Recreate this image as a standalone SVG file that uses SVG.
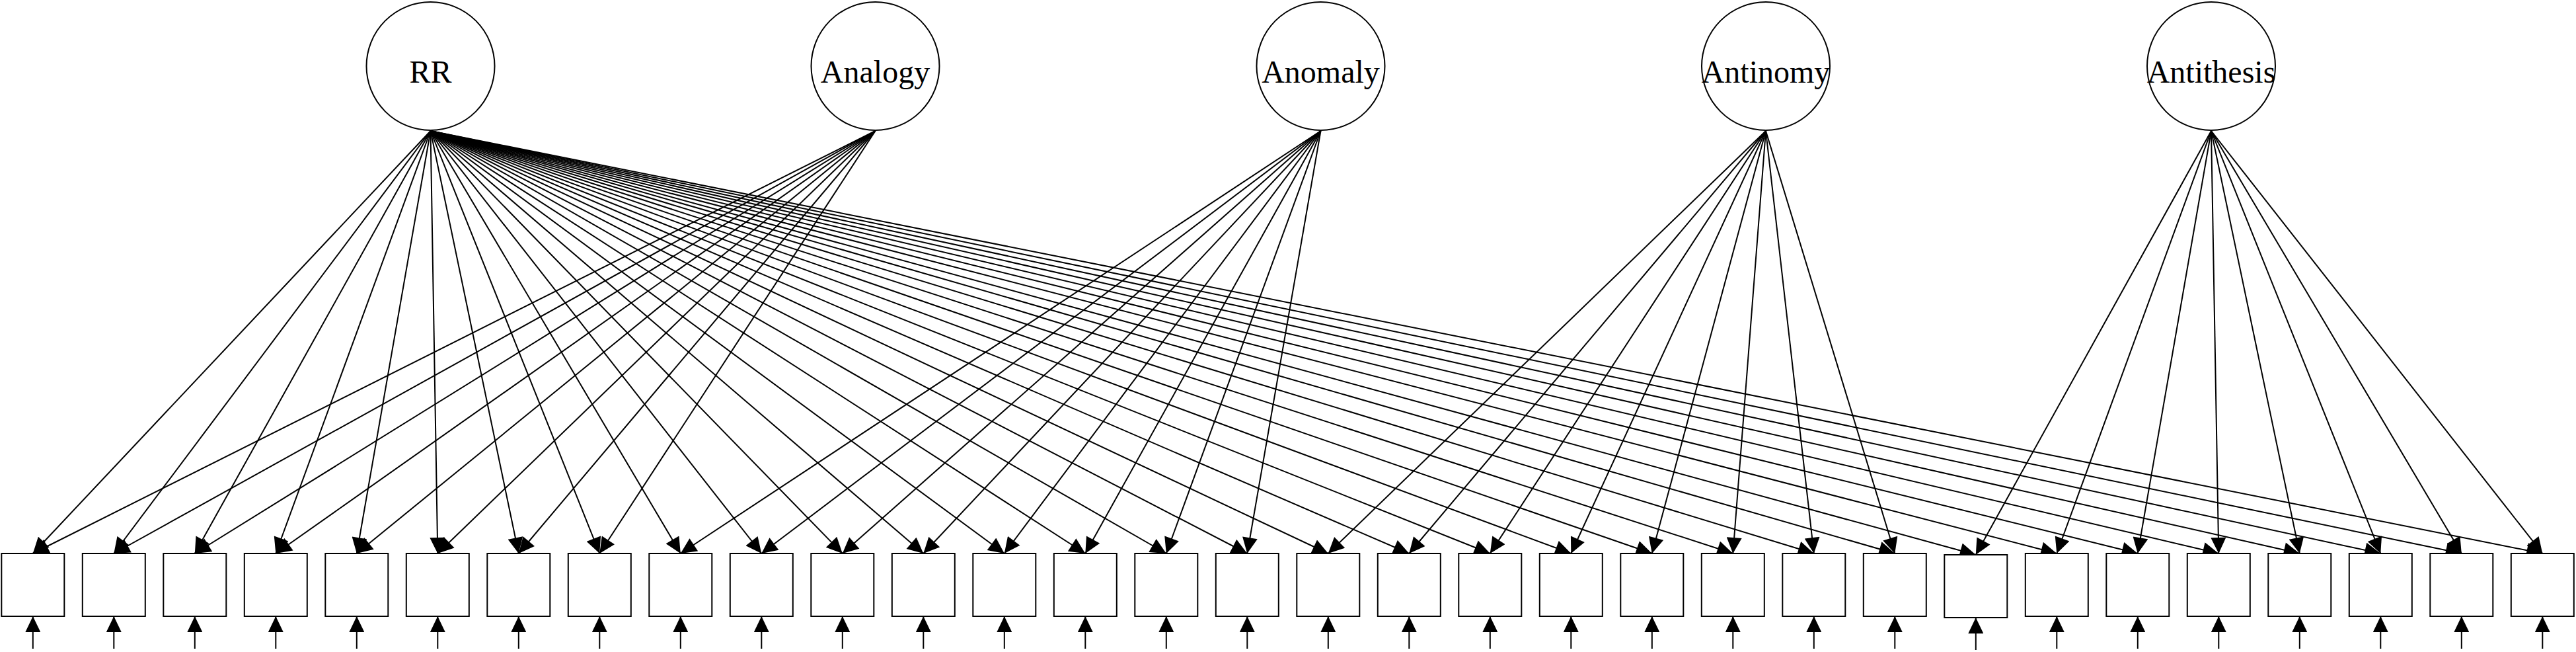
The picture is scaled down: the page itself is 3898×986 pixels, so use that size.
<svg xmlns="http://www.w3.org/2000/svg" width="3898" height="986" viewBox="0 0 3898 986">
<style>
.lat circle{fill:#fff;stroke:#000;stroke-width:2}
.lat text{font-family:"Liberation Serif","Times New Roman",serif;font-size:48px;text-anchor:middle;fill:#000}
.obs rect{fill:#fff;stroke:#000;stroke-width:2}
#connectors line{stroke:#000;stroke-width:2;marker-end:url(#ah)}
</style>
<defs>
<marker id="ah" markerUnits="userSpaceOnUse" markerWidth="25" markerHeight="23" refX="24" refY="11.5" orient="auto" viewBox="0 0 24 23"><path d="M0,0 L24,11.5 L0,23 z" fill="#000"/></marker>
</defs>
<rect width="3898" height="986" fill="#fff"/>
<g id="connectors">
<line x1="651.5" y1="198" x2="49.8" y2="837"/>
<line x1="651.5" y1="198" x2="172.3" y2="837"/>
<line x1="651.5" y1="198" x2="294.8" y2="837"/>
<line x1="651.5" y1="198" x2="417.3" y2="837"/>
<line x1="651.5" y1="198" x2="539.8" y2="837"/>
<line x1="651.5" y1="198" x2="662.3" y2="837"/>
<line x1="651.5" y1="198" x2="784.8" y2="837"/>
<line x1="651.5" y1="198" x2="907.3" y2="837"/>
<line x1="651.5" y1="198" x2="1029.8" y2="837"/>
<line x1="651.5" y1="198" x2="1152.3" y2="837"/>
<line x1="651.5" y1="198" x2="1274.8" y2="837"/>
<line x1="651.5" y1="198" x2="1397.3" y2="837"/>
<line x1="651.5" y1="198" x2="1519.8" y2="837"/>
<line x1="651.5" y1="198" x2="1642.3" y2="837"/>
<line x1="651.5" y1="198" x2="1764.8" y2="837"/>
<line x1="651.5" y1="198" x2="1887.3" y2="837"/>
<line x1="651.5" y1="198" x2="2009.8" y2="837"/>
<line x1="651.5" y1="198" x2="2132.3" y2="837"/>
<line x1="651.5" y1="198" x2="2254.8" y2="837"/>
<line x1="651.5" y1="198" x2="2377.3" y2="837"/>
<line x1="651.5" y1="198" x2="2499.8" y2="837"/>
<line x1="651.5" y1="198" x2="2622.3" y2="837"/>
<line x1="651.5" y1="198" x2="2744.8" y2="837"/>
<line x1="651.5" y1="198" x2="2867.3" y2="837"/>
<line x1="651.5" y1="198" x2="2989.8" y2="839"/>
<line x1="651.5" y1="198" x2="3112.3" y2="837"/>
<line x1="651.5" y1="198" x2="3234.8" y2="837"/>
<line x1="651.5" y1="198" x2="3357.3" y2="837"/>
<line x1="651.5" y1="198" x2="3479.8" y2="837"/>
<line x1="651.5" y1="198" x2="3602.3" y2="837"/>
<line x1="651.5" y1="198" x2="3724.8" y2="837"/>
<line x1="651.5" y1="198" x2="3847.3" y2="837"/>
<line x1="1324.5" y1="198" x2="49.8" y2="837"/>
<line x1="1324.5" y1="198" x2="172.3" y2="837"/>
<line x1="1324.5" y1="198" x2="294.8" y2="837"/>
<line x1="1324.5" y1="198" x2="417.3" y2="837"/>
<line x1="1324.5" y1="198" x2="539.8" y2="837"/>
<line x1="1324.5" y1="198" x2="662.3" y2="837"/>
<line x1="1324.5" y1="198" x2="784.8" y2="837"/>
<line x1="1324.5" y1="198" x2="907.3" y2="837"/>
<line x1="1998.5" y1="198" x2="1029.8" y2="837"/>
<line x1="1998.5" y1="198" x2="1152.3" y2="837"/>
<line x1="1998.5" y1="198" x2="1274.8" y2="837"/>
<line x1="1998.5" y1="198" x2="1397.3" y2="837"/>
<line x1="1998.5" y1="198" x2="1519.8" y2="837"/>
<line x1="1998.5" y1="198" x2="1642.3" y2="837"/>
<line x1="1998.5" y1="198" x2="1764.8" y2="837"/>
<line x1="1998.5" y1="198" x2="1887.3" y2="837"/>
<line x1="2672" y1="198" x2="2009.8" y2="837"/>
<line x1="2672" y1="198" x2="2132.3" y2="837"/>
<line x1="2672" y1="198" x2="2254.8" y2="837"/>
<line x1="2672" y1="198" x2="2377.3" y2="837"/>
<line x1="2672" y1="198" x2="2499.8" y2="837"/>
<line x1="2672" y1="198" x2="2622.3" y2="837"/>
<line x1="2672" y1="198" x2="2744.8" y2="837"/>
<line x1="2672" y1="198" x2="2867.3" y2="837"/>
<line x1="3346" y1="198" x2="2989.8" y2="839"/>
<line x1="3346" y1="198" x2="3112.3" y2="837"/>
<line x1="3346" y1="198" x2="3234.8" y2="837"/>
<line x1="3346" y1="198" x2="3357.3" y2="837"/>
<line x1="3346" y1="198" x2="3479.8" y2="837"/>
<line x1="3346" y1="198" x2="3602.3" y2="837"/>
<line x1="3346" y1="198" x2="3724.8" y2="837"/>
<line x1="3346" y1="198" x2="3847.3" y2="837"/>
<line x1="49.8" y1="981" x2="49.8" y2="932"/>
<line x1="172.3" y1="981" x2="172.3" y2="932"/>
<line x1="294.8" y1="981" x2="294.8" y2="932"/>
<line x1="417.3" y1="981" x2="417.3" y2="932"/>
<line x1="539.8" y1="981" x2="539.8" y2="932"/>
<line x1="662.3" y1="981" x2="662.3" y2="932"/>
<line x1="784.8" y1="981" x2="784.8" y2="932"/>
<line x1="907.3" y1="981" x2="907.3" y2="932"/>
<line x1="1029.8" y1="981" x2="1029.8" y2="932"/>
<line x1="1152.3" y1="981" x2="1152.3" y2="932"/>
<line x1="1274.8" y1="981" x2="1274.8" y2="932"/>
<line x1="1397.3" y1="981" x2="1397.3" y2="932"/>
<line x1="1519.8" y1="981" x2="1519.8" y2="932"/>
<line x1="1642.3" y1="981" x2="1642.3" y2="932"/>
<line x1="1764.8" y1="981" x2="1764.8" y2="932"/>
<line x1="1887.3" y1="981" x2="1887.3" y2="932"/>
<line x1="2009.8" y1="981" x2="2009.8" y2="932"/>
<line x1="2132.3" y1="981" x2="2132.3" y2="932"/>
<line x1="2254.8" y1="981" x2="2254.8" y2="932"/>
<line x1="2377.3" y1="981" x2="2377.3" y2="932"/>
<line x1="2499.8" y1="981" x2="2499.8" y2="932"/>
<line x1="2622.3" y1="981" x2="2622.3" y2="932"/>
<line x1="2744.8" y1="981" x2="2744.8" y2="932"/>
<line x1="2867.3" y1="981" x2="2867.3" y2="932"/>
<line x1="2989.8" y1="983" x2="2989.8" y2="934"/>
<line x1="3112.3" y1="981" x2="3112.3" y2="932"/>
<line x1="3234.8" y1="981" x2="3234.8" y2="932"/>
<line x1="3357.3" y1="981" x2="3357.3" y2="932"/>
<line x1="3479.8" y1="981" x2="3479.8" y2="932"/>
<line x1="3602.3" y1="981" x2="3602.3" y2="932"/>
<line x1="3724.8" y1="981" x2="3724.8" y2="932"/>
<line x1="3847.3" y1="981" x2="3847.3" y2="932"/>
</g>
<g id="RR" class="lat"><circle cx="651.5" cy="100" r="97"/><text x="651.5" y="125">RR</text></g>
<g id="Analogy" class="lat"><circle cx="1324.5" cy="100" r="97"/><text x="1324.5" y="125">Analogy</text></g>
<g id="Anomaly" class="lat"><circle cx="1998.5" cy="100" r="97"/><text x="1998.5" y="125">Anomaly</text></g>
<g id="Antinomy" class="lat"><circle cx="2672" cy="100" r="97"/><text x="2672" y="125">Antinomy</text></g>
<g id="Antithesis" class="lat"><circle cx="3346" cy="100" r="97"/><text x="3346" y="125">Antithesis</text></g>
<g id="x1" class="obs"><rect x="2.3" y="837" width="95" height="95"/></g>
<g id="x2" class="obs"><rect x="124.8" y="837" width="95" height="95"/></g>
<g id="x3" class="obs"><rect x="247.3" y="837" width="95" height="95"/></g>
<g id="x4" class="obs"><rect x="369.8" y="837" width="95" height="95"/></g>
<g id="x5" class="obs"><rect x="492.3" y="837" width="95" height="95"/></g>
<g id="x6" class="obs"><rect x="614.8" y="837" width="95" height="95"/></g>
<g id="x7" class="obs"><rect x="737.3" y="837" width="95" height="95"/></g>
<g id="x8" class="obs"><rect x="859.8" y="837" width="95" height="95"/></g>
<g id="x9" class="obs"><rect x="982.3" y="837" width="95" height="95"/></g>
<g id="x10" class="obs"><rect x="1104.8" y="837" width="95" height="95"/></g>
<g id="x11" class="obs"><rect x="1227.3" y="837" width="95" height="95"/></g>
<g id="x12" class="obs"><rect x="1349.8" y="837" width="95" height="95"/></g>
<g id="x13" class="obs"><rect x="1472.3" y="837" width="95" height="95"/></g>
<g id="x14" class="obs"><rect x="1594.8" y="837" width="95" height="95"/></g>
<g id="x15" class="obs"><rect x="1717.3" y="837" width="95" height="95"/></g>
<g id="x16" class="obs"><rect x="1839.8" y="837" width="95" height="95"/></g>
<g id="x17" class="obs"><rect x="1962.3" y="837" width="95" height="95"/></g>
<g id="x18" class="obs"><rect x="2084.8" y="837" width="95" height="95"/></g>
<g id="x19" class="obs"><rect x="2207.3" y="837" width="95" height="95"/></g>
<g id="x20" class="obs"><rect x="2329.8" y="837" width="95" height="95"/></g>
<g id="x21" class="obs"><rect x="2452.3" y="837" width="95" height="95"/></g>
<g id="x22" class="obs"><rect x="2574.8" y="837" width="95" height="95"/></g>
<g id="x23" class="obs"><rect x="2697.3" y="837" width="95" height="95"/></g>
<g id="x24" class="obs"><rect x="2819.8" y="837" width="95" height="95"/></g>
<g id="x25" class="obs"><rect x="2942.3" y="839" width="95" height="95"/></g>
<g id="x26" class="obs"><rect x="3064.8" y="837" width="95" height="95"/></g>
<g id="x27" class="obs"><rect x="3187.3" y="837" width="95" height="95"/></g>
<g id="x28" class="obs"><rect x="3309.8" y="837" width="95" height="95"/></g>
<g id="x29" class="obs"><rect x="3432.3" y="837" width="95" height="95"/></g>
<g id="x30" class="obs"><rect x="3554.8" y="837" width="95" height="95"/></g>
<g id="x31" class="obs"><rect x="3677.3" y="837" width="95" height="95"/></g>
<g id="x32" class="obs"><rect x="3799.8" y="837" width="95" height="95"/></g>
</svg>
